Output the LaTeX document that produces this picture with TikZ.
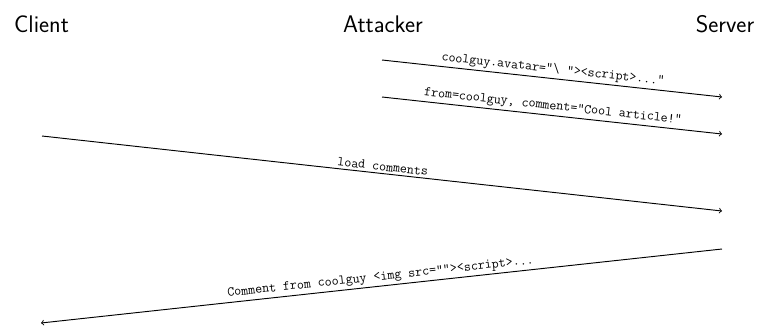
\documentclass[tikz,border=0pt]{standalone}
\usepackage{fontspec}
\begin{document}
\begin{tikzpicture}[x=0.03cm, y=-0.03cm,
    actor/.style={font=\fontsize{20.5}{24}\selectfont\sffamily, anchor=base},
    msg/.style={thick, ->},
    msglabel/.style={font=\fontsize{11.6}{13}\selectfont\ttfamily, sloped, above, inner sep=2pt}]
    \useasboundingbox (0,0) rectangle (760,329);

    % 参与者
    \node[actor] (client) at (41.5,32) {Client};
    \node[actor] (attacker) at (383,32) {Attacker};
    \node[actor] (server) at (725,32) {Server};

    % 消息端点
    \coordinate (a1) at (382,60);  \coordinate (s1) at (722,97);
    \coordinate (a2) at (382,97);  \coordinate (s2) at (722,134);
    \coordinate (c3) at (42,136);  \coordinate (s3) at (722,211);
    \coordinate (s4) at (722,249); \coordinate (c4) at (41,323);

    % 攻击者写入
    \draw[msg] (a1) -- node[msglabel] {coolguy.avatar="\textbackslash\ "><script>..."} (s1);
    \draw[msg] (a2) -- node[msglabel] {from=coolguy, comment="Cool article!"} (s2);

    % 客户端读取
    \draw[msg] (c3) -- node[msglabel] {load comments} (s3);
    \draw[msg] (s4) -- node[msglabel] {Comment from coolguy <img src=""><script>...} (c4);
\end{tikzpicture}
\end{document}
